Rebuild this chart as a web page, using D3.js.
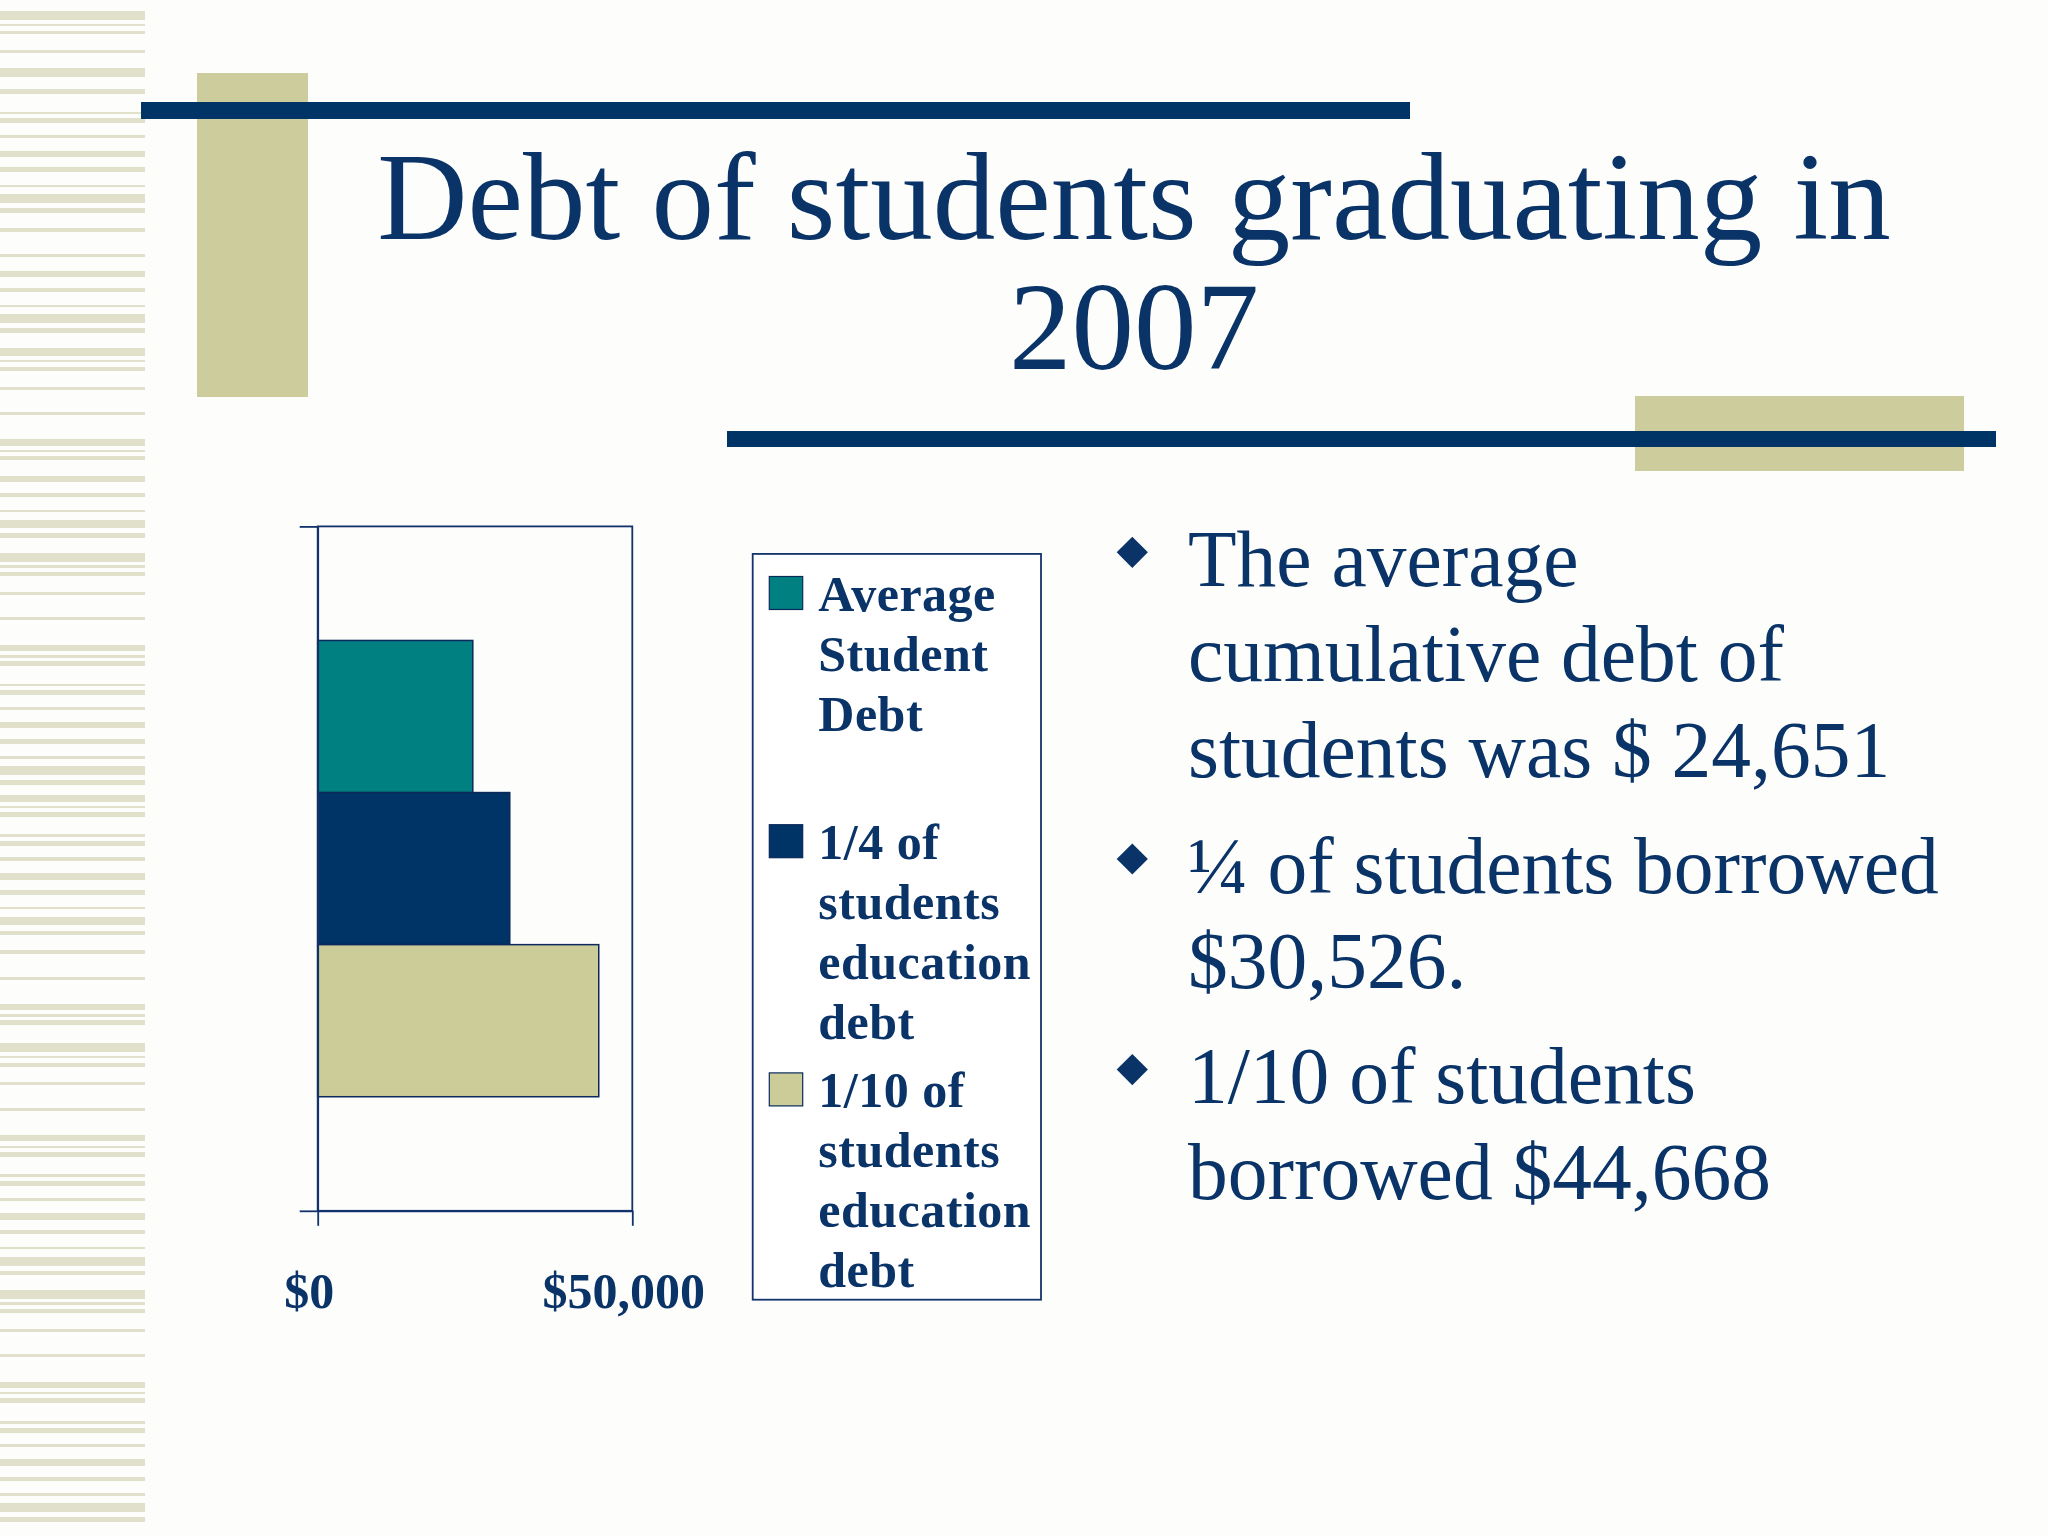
<!DOCTYPE html>
<html>
<head>
<meta charset="utf-8">
<script src="https://cdn.jsdelivr.net/npm/d3@7"></script>
<style>
  html, body { margin: 0; padding: 0; background: #ffffff; }
  svg { display: block; }
</style>
</head>
<body>
<svg id="slide" width="2048" height="1536"></svg>
<script>
// ---------- data ----------
const categories = ["2007"];
const seriesNames = [
  "Average Student Debt",
  "1/4 of students education debt",
  "1/10 of students education debt"
];
const seriesValues = [24651, 30526, 44668];
const xTickValues = [0, 50000];
const legendLines = [
  ["Average", "Student", "Debt"],
  ["1/4 of", "students", "education", "debt"],
  ["1/10 of", "students", "education", "debt"]
];
const titleLines = ["Debt of students graduating in", "2007"];
const bulletLines = [
  ["The average", "cumulative debt of", "students was $ 24,651"],
  ["\u00BC of students borrowed", "$30,526."],
  ["1/10 of students", "borrowed $44,668"]
];

// ---------- styles ----------
const seriesColors = ["#008080", "#003366", "#CCCC99"];
const navy = "#003366";
const textNavy = "#0a3468";
const tan = "#CCCC9C";
const stripeColor = "#e0e0cb";

// decorative background stripes of the slide template: [top, bottom]
const stripeBands = [[11,19],[24,25],[31,33],[50,52],[68,76],[89,93],[112,113],[118,122],[135,137],[151,156],[167,171],[185,186],[194,202],[208,212],[228,231],[254,256],[271,276],[288,291],[305,306],[314,322],[328,332],[348,355],[360,361],[367,370],[387,389],[412,414],[439,445],[450,451],[456,459],[476,481],[493,496],[510,511],[520,527],[533,537],[553,561],[565,567],[572,575],[592,594],[617,619],[645,650],[655,657],[661,665],[684,685],[690,694],[707,709],[722,727],[739,743],[756,758],[766,774],[780,784],[795,801],[806,807],[812,816],[834,836],[841,845],[857,860],[873,879],[890,894],[907,908],[917,924],[931,934],[950,953],[977,979],[1004,1009],[1014,1016],[1020,1024],[1043,1051],[1056,1057],[1063,1066],[1082,1084],[1108,1110],[1135,1140],[1146,1147],[1152,1156],[1174,1176],[1181,1185],[1198,1200],[1213,1219],[1230,1233],[1247,1248],[1257,1265],[1271,1274],[1290,1298],[1302,1304],[1309,1312],[1329,1331],[1354,1356],[1382,1387],[1392,1393],[1398,1402],[1421,1423],[1428,1432],[1444,1446],[1459,1465],[1477,1480],[1493,1495],[1503,1511],[1517,1521]];

const svg = d3.select("#slide");
const serif = "'Liberation Serif', 'Times New Roman', Times, serif";

// ---------- background decoration ----------
svg.append("rect").attr("width", 2048).attr("height", 1536).attr("fill", "#fdfdfc");
svg.append("g").selectAll("rect").data(stripeBands).join("rect")
  .attr("x", 0).attr("width", 145)
  .attr("y", d => d[0])
  .attr("height", d => Math.max(2, d[1] - d[0] + 1))
  .attr("fill", stripeColor);

// tan blocks (behind lines)
svg.append("rect").attr("x", 197).attr("y", 73).attr("width", 111).attr("height", 324).attr("fill", tan);
svg.append("rect").attr("x", 1635).attr("y", 396).attr("width", 329).attr("height", 75).attr("fill", tan);
// navy rules
svg.append("rect").attr("x", 141).attr("y", 102).attr("width", 1269).attr("height", 17).attr("fill", navy);
svg.append("rect").attr("x", 727).attr("y", 431).attr("width", 1269).attr("height", 16).attr("fill", navy);

// ---------- title ----------
svg.append("g").selectAll("text").data(titleLines).join("text")
  .attr("x", 1134)
  .attr("y", (d, i) => 239 + i * 130)
  .attr("text-anchor", "middle")
  .attr("font-family", serif)
  .attr("font-size", 125)
  .attr("fill", textNavy)
  .text(d => d);

// ---------- chart ----------
const plot = { left: 317.7, right: 632.3, top: 526.4, bottom: 1210.8 };
const x = d3.scaleLinear().domain([0, 50000]).range([plot.left, plot.right]);
const yCat = d3.scaleBand().domain(categories).range([plot.top, plot.bottom])
  .paddingInner(0).paddingOuter(0.25);
const ySer = d3.scaleBand().domain(seriesNames).range([0, yCat.bandwidth()]).padding(0);
const axisColor = "#12336b";

const chart = svg.append("g");

// plot frame (top and right borders)
chart.append("rect")
  .attr("x", plot.left).attr("y", plot.top)
  .attr("width", plot.right - plot.left).attr("height", plot.bottom - plot.top)
  .attr("fill", "none").attr("stroke", axisColor).attr("stroke-width", 1.8);

// bars
chart.append("g").selectAll("g").data(categories).join("g")
  .attr("transform", d => `translate(0,${yCat(d)})`)
  .selectAll("rect")
  .data(() => seriesNames.map((s, i) => ({ s, v: seriesValues[i], i })))
  .join("rect")
  .attr("x", x(0))
  .attr("y", d => ySer(d.s))
  .attr("width", d => x(d.v) - x(0))
  .attr("height", ySer.bandwidth())
  .attr("fill", d => seriesColors[d.i])
  .attr("stroke", "#0b2a5c")
  .attr("stroke-width", 1.5);

// category axis (left) with boundary ticks
const catEdge = d3.scaleLinear().domain([0, 1]).range([plot.bottom, plot.top]);
const leftAxis = chart.append("g")
  .attr("transform", `translate(${plot.left},0)`)
  .call(d3.axisLeft(catEdge).tickValues([0, 1]).tickSize(18).tickSizeOuter(0).tickFormat(""));
leftAxis.selectAll("path, line").attr("stroke", axisColor).attr("stroke-width", 1.8);

// value axis (bottom)
const bottomAxis = chart.append("g")
  .attr("transform", `translate(0,${plot.bottom})`)
  .call(d3.axisBottom(x).tickValues(xTickValues).tickSize(15).tickSizeOuter(0)
    .tickFormat(d3.format("$,")));
bottomAxis.selectAll("path, line").attr("stroke", axisColor).attr("stroke-width", 1.8);
bottomAxis.selectAll("text")
  .attr("y", 97).attr("dy", 0)
  .attr("transform", "translate(-9,0)")
  .attr("font-family", serif)
  .attr("font-weight", "bold")
  .attr("font-size", 50)
  .attr("fill", textNavy);

// ---------- legend ----------
const legend = svg.append("g");
legend.append("rect")
  .attr("x", 752.7).attr("y", 553.9).attr("width", 288.3).attr("height", 745.8)
  .attr("fill", "#ffffff").attr("stroke", axisColor).attr("stroke-width", 1.8);

const entryBase = i => 611 + i * 248.2;
const items = legend.selectAll("g.item").data(seriesNames).join("g").attr("class", "item");
items.append("rect")
  .attr("x", 769.3)
  .attr("y", (d, i) => entryBase(i) - 34.5)
  .attr("width", 33.4).attr("height", 33)
  .attr("fill", (d, i) => seriesColors[i])
  .attr("stroke", "#0b2a5c").attr("stroke-width", 1.2);
items.each(function (d, i) {
  d3.select(this).selectAll("text").data(legendLines[i]).join("text")
    .attr("x", 818.3)
    .attr("y", (t, j) => entryBase(i) + j * 59.9)
    .attr("font-family", serif)
    .attr("font-weight", "bold")
    .attr("font-size", 50)
    .attr("letter-spacing", 0.5)
    .attr("fill", textNavy)
    .text(t => t);
});

// ---------- bullets ----------
const bulletBase = [586, 892.7, 1103.3];
const bullets = svg.append("g").selectAll("g").data(bulletLines).join("g");
bullets.append("path")
  .attr("d", (d, i) => {
    const cx = 1132.3, cy = bulletBase[i] - 33.7, r = 15.6;
    return `M${cx},${cy - r}L${cx + r},${cy}L${cx},${cy + r}L${cx - r},${cy}Z`;
  })
  .attr("fill", textNavy);
bullets.each(function (lines, i) {
  d3.select(this).selectAll("text").data(lines).join("text")
    .attr("x", 1188)
    .attr("y", (t, j) => bulletBase[i] + j * 95.4)
    .attr("font-family", serif)
    .attr("font-size", 79.5)
    .attr("fill", textNavy)
    .text(t => t);
});
</script>
</body>
</html>
